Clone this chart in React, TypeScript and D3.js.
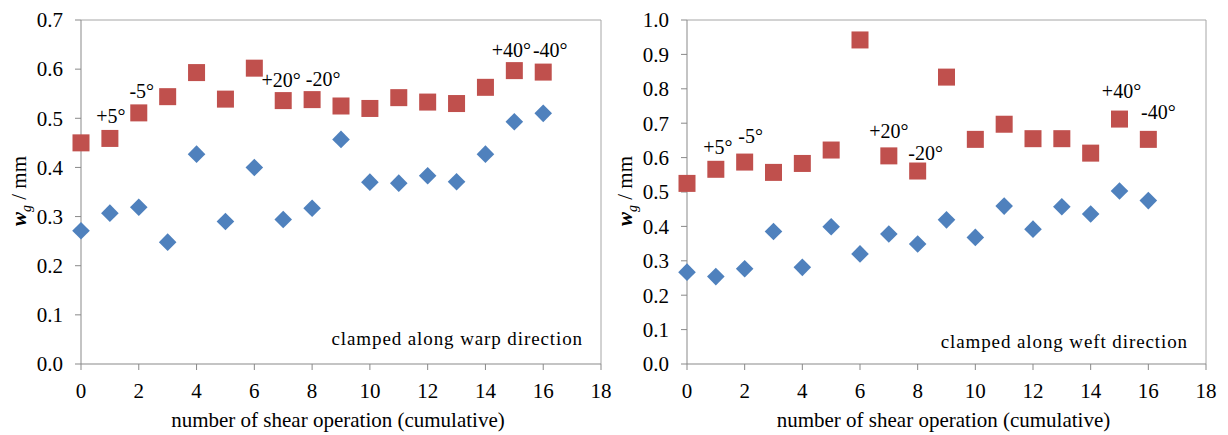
import React from 'react';
import * as d3 from 'd3';

// shear operation index (x)
const shearSteps = [0, 1, 2, 3, 4, 5, 6, 7, 8, 9, 10, 11, 12, 13, 14, 15, 16];

// clamped along warp direction
const warpSquares = [0.450, 0.459, 0.511, 0.544, 0.593, 0.539, 0.602, 0.536, 0.538, 0.525, 0.520, 0.542, 0.533, 0.530, 0.563, 0.597, 0.594];
const warpDiamonds = [0.271, 0.307, 0.319, 0.248, 0.427, 0.290, 0.400, 0.294, 0.317, 0.457, 0.370, 0.368, 0.383, 0.371, 0.427, 0.493, 0.510];

// clamped along weft direction
const weftSquares = [0.525, 0.566, 0.587, 0.557, 0.583, 0.622, 0.942, 0.605, 0.561, 0.834, 0.653, 0.697, 0.655, 0.655, 0.613, 0.712, 0.653];
const weftDiamonds = [0.267, 0.254, 0.277, 0.385, 0.281, 0.399, 0.320, 0.378, 0.349, 0.419, 0.368, 0.459, 0.392, 0.457, 0.436, 0.503, 0.475];

const xTicks = [0, 2, 4, 6, 8, 10, 12, 14, 16, 18];
const warpYTicks = [0, 0.1, 0.2, 0.3, 0.4, 0.5, 0.6, 0.7];
const weftYTicks = [0, 0.1, 0.2, 0.3, 0.4, 0.5, 0.6, 0.7, 0.8, 0.9, 1.0];

// angle labels attached to square points (index, text)
const angleIdx = [1, 2, 7, 8, 15, 16];
const angleText = ['+5°', '-5°', '+20°', '-20°', '+40°', '-40°'];

// label nudges (layout only)
const warpNudge = [[1, -15], [3, -15], [-2, -14], [11, -14], [-3, -14], [7, -15]];
const weftNudge = [[2, -15], [6, -19], [0, -18], [8, -11], [2, -21], [10, -20]];

const RED = '#C0504D';
const BLUE = '#4F81BD';
const AXIS = '#898989';
const FONT = '"Liberation Serif"';

interface PanelProps {
  left: number;
  right: number;
  yMax: number;
  yTicks: number[];
  squares: number[];
  diamonds: number[];
  nudge: number[][];
  note: string;
  noteY: number;
}

const top = 20;
const bottom = 364;

const Panel: React.FC<PanelProps> = ({ left, right, yMax, yTicks, squares, diamonds, nudge, note, noteY }) => {
  const x = d3.scaleLinear().domain([0, 18]).range([left, right]);
  const y = d3.scaleLinear().domain([0, yMax]).range([bottom, top]);
  const sq = 17;
  const dm = 8.8;
  const diamondPath = (cx: number, cy: number) =>
    `M${cx},${cy - dm}L${cx + dm},${cy}L${cx},${cy + dm}L${cx - dm},${cy}Z`;
  const txt = { fontFamily: FONT };

  return (
    <g fill="#000">
      {/* frame */}
      <line x1={left} x2={right} y1={top} y2={top} stroke="#a6a6a6" />
      <line x1={right} x2={right} y1={top} y2={bottom} stroke="#a6a6a6" />
      <line x1={left} x2={left} y1={top} y2={bottom} stroke={AXIS} />
      <line x1={left} x2={right} y1={bottom} y2={bottom} stroke={AXIS} />

      {yTicks.map(t => (
        <g key={'y' + t}>
          <line x1={left - 6} x2={left} y1={y(t)} y2={y(t)} stroke={AXIS} />
          <text x={left - 18} y={y(t)} dy="0.35em" textAnchor="end" fontSize={21} style={txt}>
            {d3.format('.1f')(t)}
          </text>
        </g>
      ))}
      {xTicks.map(t => (
        <g key={'x' + t}>
          <line x1={x(t)} x2={x(t)} y1={bottom} y2={bottom + 6} stroke={AXIS} />
          <text x={x(t)} y={398} textAnchor="middle" fontSize={21} style={txt}>{t}</text>
        </g>
      ))}

      {diamonds.map((v, i) => (
        <path key={'d' + i} d={diamondPath(x(shearSteps[i]), y(v))} fill={BLUE} />
      ))}
      {squares.map((v, i) => (
        <rect key={'s' + i} x={x(shearSteps[i]) - sq / 2} y={y(v) - sq / 2} width={sq} height={sq} fill={RED} />
      ))}

      {angleIdx.map((idx, k) => (
        <text key={'a' + k} x={x(shearSteps[idx]) + nudge[k][0]} y={y(squares[idx]) + nudge[k][1]}
          textAnchor="middle" fontSize={20} style={txt}>
          {angleText[k]}
        </text>
      ))}

      <text x={right - 18} y={noteY} textAnchor="end" fontSize={19} letterSpacing={0.9} style={txt}>{note}</text>

      <text x={(left + right) / 2 - 3} y={427} textAnchor="middle" fontSize={21} style={txt}>
        number of shear operation (cumulative)
      </text>

      <text transform={`translate(${left - 55},191) rotate(-90)`} textAnchor="middle" fontSize={21} style={txt}>
        <tspan fontStyle="italic" fontWeight="bold">w</tspan>
        <tspan fontStyle="italic" fontSize={14} dy={5}>g</tspan>
        <tspan dy={-5}> / mm</tspan>
      </text>
    </g>
  );
};

export default function App() {
  return (
    <div style={{ position: 'absolute', left: 0, top: 0 }}>
      <svg width={1228} height={435} style={{ display: 'block', background: '#fff' }}>
        <Panel left={81} right={601} yMax={0.7} yTicks={warpYTicks} squares={warpSquares}
          diamonds={warpDiamonds} nudge={warpNudge} note="clamped along warp direction" noteY={345} />
        <Panel left={687} right={1206} yMax={1.0} yTicks={weftYTicks} squares={weftSquares}
          diamonds={weftDiamonds} nudge={weftNudge} note="clamped along weft direction" noteY={348} />
      </svg>
    </div>
  );
}
